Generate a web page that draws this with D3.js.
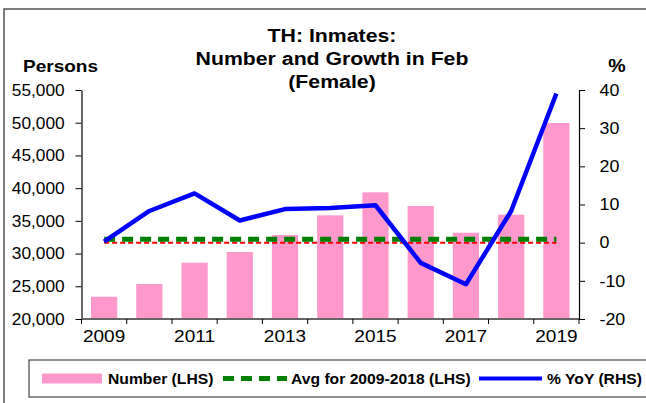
<!DOCTYPE html>
<html>
<head>
<meta charset="utf-8">
<script src="https://cdn.jsdelivr.net/npm/d3@7"></script>
<style>
  body { margin: 0; background: #fff; }
  svg { display: block; font-family: "Liberation Sans", Arial, sans-serif; }
</style>
</head>
<body>
<svg id="chart" width="646" height="403"></svg>
<script>
// data
const years = [2009, 2010, 2011, 2012, 2013, 2014, 2015, 2016, 2017, 2018, 2019];
const inmates = [23400, 25350, 28600, 30240, 32840, 35850, 39360, 37270, 33190, 35940, 49960];
const yoy = [0.3, 8.3, 12.9, 5.8, 8.8, 9.1, 9.8, -5.3, -10.9, 8.3, 39.1];
const avgValue = 32200;
const leftTicks = [20000, 25000, 30000, 35000, 40000, 45000, 50000, 55000];
const rightTicks = [-20, -10, 0, 10, 20, 30, 40];
const yearLabels = [2009, 2011, 2013, 2015, 2017, 2019];

const svg = d3.select('#chart');

// the original text is a bit wider than Liberation Sans
const stretch = 1.12;
let addText = (g, x, y, txt, size, bold, anchor) => {
    return g.append('text')
        .attr('transform', `translate(${x},${y}) scale(${stretch},1)`)
        .attr('text-anchor', anchor || 'start')
        .attr('font-size', size)
        .attr('font-weight', bold ? 'bold' : 'normal')
        .text(txt);
}

// outer frame
svg.append('path')
    .attr('d', 'M4,403 V9 H646')
    .attr('fill', 'none')
    .attr('stroke', '#555')
    .attr('stroke-width', 1.5);

const pLeft = 81.5, pRight = 579, pTop = 90, pBottom = 319;

const x = d3.scaleBand()
    .domain(years)
    .range([pLeft, pRight])
    .paddingInner(0.42)
    .paddingOuter(0.21);
const xc = d => x(d) + x.bandwidth() / 2;

const yL = d3.scaleLinear().domain([20000, 55000]).range([pBottom, pTop]);
const yR = d3.scaleLinear().domain([-20, 40]).range([pBottom, pTop]);

// bars
svg.append('g').selectAll('rect')
    .data(years)
    .join('rect')
    .attr('x', d => x(d))
    .attr('width', x.bandwidth())
    .attr('y', (d, i) => yL(inmates[i]))
    .attr('height', (d, i) => pBottom - yL(inmates[i]))
    .attr('fill', '#FF99CC');

// zero line on RHS (red dashed)
svg.append('line')
    .attr('x1', xc(years[0])).attr('x2', xc(years[years.length - 1]))
    .attr('y1', yR(0)).attr('y2', yR(0))
    .attr('stroke', '#FF0000')
    .attr('stroke-width', 2)
    .attr('stroke-dasharray', '5,3');

// average line (green dashed)
svg.append('line')
    .attr('x1', xc(years[0])).attr('x2', xc(years[years.length - 1]))
    .attr('y1', yL(avgValue)).attr('y2', yL(avgValue))
    .attr('stroke', '#008000')
    .attr('stroke-width', 5)
    .attr('stroke-dasharray', '11,7');

// YoY line
const line = d3.line()
    .x((d, i) => xc(years[i]))
    .y(d => yR(d));
svg.append('path')
    .datum(yoy)
    .attr('d', line)
    .attr('fill', 'none')
    .attr('stroke', '#0000FF')
    .attr('stroke-width', 4.5)
    .attr('stroke-linejoin', 'round');

// left axis
const axL = svg.append('g')
    .attr('transform', `translate(${pLeft},0)`)
    .call(d3.axisLeft(yL).tickValues(leftTicks).tickFormat(d3.format(',')).tickSize(6).tickPadding(10).tickSizeOuter(0));
axL.select('.domain').attr('stroke', '#000').attr('stroke-width', 1.2);
axL.selectAll('text')
    .attr('font-size', 16.5).attr('fill', '#000')
    .attr('transform', 'scale(1.05,1)')
    .style('font-family', '"Liberation Sans", Arial, sans-serif');

// right axis
const axR = svg.append('g')
    .attr('transform', `translate(${pRight},0)`)
    .call(d3.axisRight(yR).tickValues(rightTicks).tickFormat(d => String(d)).tickSize(6).tickPadding(13).tickSizeOuter(0));
axR.select('.domain').attr('stroke', '#000').attr('stroke-width', 1.2);
axR.selectAll('text')
    .attr('font-size', 16.5).attr('fill', '#000')
    .attr('transform', 'scale(1.08,1)')
    .style('font-family', '"Liberation Sans", Arial, sans-serif');

// bottom axis: ticks at band edges, labels every second year
const edges = years.map(d => x(d) - x.step() * x.paddingInner() / 2).concat([pRight]);
const axB = svg.append('g');
axB.append('line')
    .attr('x1', pLeft).attr('x2', pRight)
    .attr('y1', pBottom).attr('y2', pBottom)
    .attr('stroke', '#666').attr('stroke-width', 2);
axB.selectAll('line.tick')
    .data(edges)
    .join('line')
    .attr('class', 'tick')
    .attr('x1', d => d).attr('x2', d => d)
    .attr('y1', pBottom).attr('y2', pBottom + 5)
    .attr('stroke', '#000');
yearLabels.forEach(d => addText(axB, xc(d), pBottom + 23, d, 17, false, 'middle'));

// titles
const title = ['TH: Inmates:', 'Number and Growth in Feb', '(Female)'];
const tg = svg.append('g');
title.forEach((t, i) => addText(tg, 332, 42 + i * 23, t, 19, true, 'middle'));

addText(svg, 23, 72, 'Persons', 17, true);
addText(svg, 617, 72, '%', 17.5, true, 'middle');

// legend
const lg = svg.append('g');
lg.append('rect')
    .attr('x', 29).attr('y', 360)
    .attr('width', 640).attr('height', 37)
    .attr('fill', '#fff')
    .attr('stroke', '#444').attr('stroke-width', 1.2);
const ly = 378.5;
lg.append('rect')
    .attr('x', 42).attr('y', ly - 5)
    .attr('width', 60).attr('height', 10)
    .attr('fill', '#FF99CC');
lg.append('line')
    .attr('x1', 223).attr('x2', 287)
    .attr('y1', ly).attr('y2', ly)
    .attr('stroke', '#008000').attr('stroke-width', 5)
    .attr('stroke-dasharray', '11,7');
lg.append('line')
    .attr('x1', 479).attr('x2', 542)
    .attr('y1', ly).attr('y2', ly)
    .attr('stroke', '#0000FF').attr('stroke-width', 4);
const legendText = [
    { x: 108, label: 'Number (LHS)' },
    { x: 291, label: 'Avg for 2009-2018 (LHS)' },
    { x: 547, label: '% YoY (RHS)' }
];
legendText.forEach(d => addText(lg, d.x, ly + 5, d.label, 14, true));
</script>
</body>
</html>
